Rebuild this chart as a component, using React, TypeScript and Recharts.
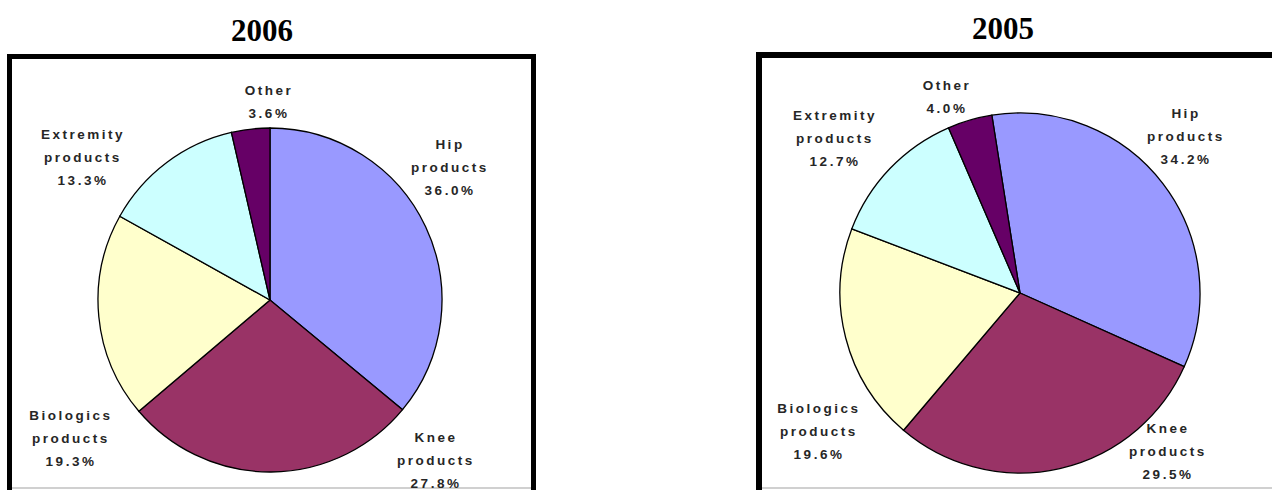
import { Cell, Pie, PieChart } from "recharts";

// shares by product line, clockwise from the top of each pie
const categories = ["Hip products", "Knee products", "Biologics products", "Extremity products", "Other"];
const share2006 = [36.0, 27.8, 19.3, 13.3, 3.6];
const share2005 = [34.2, 29.5, 19.6, 12.7, 4.0];
const percentLabels2006 = ["36.0%", "27.8%", "19.3%", "13.3%", "3.6%"];
const percentLabels2005 = ["34.2%", "29.5%", "19.6%", "12.7%", "4.0%"];

const COLORS = ["#9999FF", "#993366", "#FFFFCC", "#CCFFFF", "#660066"];

// label block centres, offset from the pie centre (Excel had them hand-placed)
const LABEL_OFFSETS_2006 = [
  [179, -133],
  [165, 160],
  [-200, 138],
  [-188, -143],
  [-2, -198],
];
const LABEL_OFFSETS_2005 = [
  [165, -157],
  [147, 158],
  [-202, 138],
  [-186, -155],
  [-74, -196],
];

const W = 1272;
const H = 490;
const LINE_H = 23;

function splitName(name: string) {
  return name === "Other" ? ["Other"] : name.split(" ");
}

function makeLabel(offsets: number[][], pct: string[]) {
  return (props: any) => {
    const { cx, cy, index, name } = props;
    const lines = [...splitName(name), pct[index]];
    const [dx, dy] = offsets[index];
    const top = cy + dy - ((lines.length - 1) * LINE_H) / 2;
    return (
      <text
        key={`lbl-${index}`}
        x={cx + dx}
        textAnchor="middle"
        fill="#262626"
        style={{
          fontFamily: "'Liberation Sans', Arial, sans-serif",
          fontWeight: 700,
          fontSize: 13.5,
          letterSpacing: 2.5,
        }}
      >
        {lines.map((l, i) => (
          <tspan key={i} x={cx + dx + 1} y={top + i * LINE_H} dominantBaseline="central">
            {l}
          </tspan>
        ))}
      </text>
    );
  };
}

const data2006 = categories.map((name, i) => ({ name, value: share2006[i] }));
const data2005 = categories.map((name, i) => ({ name, value: share2005[i] }));

const titleStyle: React.CSSProperties = {
  position: "absolute",
  fontFamily: "'Liberation Serif', 'Times New Roman', serif",
  fontWeight: 700,
  fontSize: 31,
  lineHeight: "31px",
  textAlign: "center",
  width: 200,
  color: "#000",
};

export default function App() {
  return (
    <div style={{ position: "relative", width: W, height: H, background: "#fff", overflow: "hidden" }}>
      <style>{`body{margin:0}`}</style>
      <div style={{ ...titleStyle, left: 162, top: 15 }}>2006</div>
      <div style={{ ...titleStyle, left: 903, top: 13 }}>2005</div>

      {/* chart frames, cut off by the bottom of the image */}
      <div
        style={{
          position: "absolute",
          left: 7,
          top: 54,
          width: 519,
          height: 480,
          borderLeft: "5px solid #000",
          borderTop: "5px solid #000",
          borderRight: "5px solid #000",
        }}
      />
      <div
        style={{
          position: "absolute",
          left: 756,
          top: 52,
          width: 600,
          height: 480,
          borderLeft: "6px solid #000",
          borderTop: "6px solid #000",
        }}
      />
      <div style={{ position: "absolute", left: 12, top: 487, width: 519, height: 2, background: "#d0d0d0" }} />
      <div style={{ position: "absolute", left: 762, top: 487, width: 510, height: 2, background: "#d0d0d0" }} />

      <div style={{ position: "absolute", left: 0, top: 0 }}>
        <PieChart width={W} height={H}>
          <Pie
            data={data2006}
            dataKey="value"
            nameKey="name"
            cx={265}
            cy={295}
            outerRadius={172}
            startAngle={90}
            endAngle={-270}
            stroke="#000"
            strokeWidth={1.3}
            labelLine={false}
            label={makeLabel(LABEL_OFFSETS_2006, percentLabels2006)}
            isAnimationActive={false}
          >
            {data2006.map((d, i) => (
              <Cell key={d.name} fill={COLORS[i]} />
            ))}
          </Pie>
          <Pie
            data={data2005}
            dataKey="value"
            nameKey="name"
            cx={1015}
            cy={288}
            outerRadius={180}
            startAngle={99}
            endAngle={-261}
            stroke="#000"
            strokeWidth={1.3}
            labelLine={false}
            label={makeLabel(LABEL_OFFSETS_2005, percentLabels2005)}
            isAnimationActive={false}
          >
            {data2005.map((d, i) => (
              <Cell key={d.name} fill={COLORS[i]} />
            ))}
          </Pie>
        </PieChart>
      </div>
    </div>
  );
}
